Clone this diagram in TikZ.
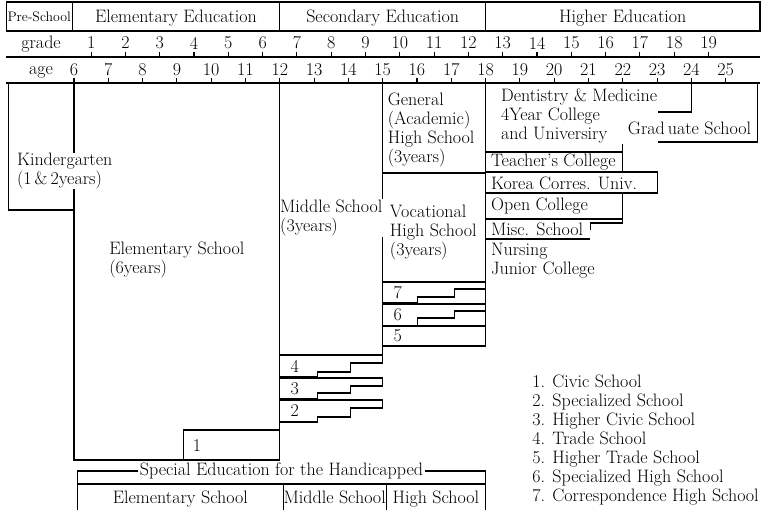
\documentclass[tikz,border=0pt]{standalone}

\begin{document}
\begin{tikzpicture}[x=34.3pt, y=-1pt, line width=1.1pt,
  font=\fontsize{18}{19}\selectfont]

  % Styles
  \tikzset{
    txt/.style={inner sep=0.5pt, fill=white, align=left, anchor=west},
    num/.style={inner sep=0pt},
    head/.style={inner sep=0pt, anchor=base}
  }

  % x: age in years, y: rows counted from the top
  \useasboundingbox (3.843,0) rectangle (26.117,510);

  % --- HEADER: school levels ---
  \draw (4.02,2) rectangle (26,31);
  \draw (5.95,2) -- (5.95,31);
  \draw (12,2) -- (12,31);
  \draw (18,2) -- (18,31);
  \node[head, font=\fontsize{13.8}{15}\selectfont] (pre) at (4.985,21.5) {Pre-School};
  \node[head] (elem) at (8.975,23) {Elementary Education};
  \node[head] (sec) at (15,23) {Secondary Education};
  \node[head] (high) at (22,23) {Higher Education};

  % --- GRADE ROW ---
  \node[head] (grade) at (5.04,48.5) {grade};
  \draw (4.02,57) -- (26,57);
  \foreach \g in {1,...,19} {
    \node[num] (g\g) at ({\g+5.5},43) {\g};
    \draw ({\g+5.5},52) -- ({\g+5.5},57);
  }

  % --- AGE ROW ---
  \node[head] (age) at (5.04,74.5) {age};
  \draw (4.02,83) -- (26,83);
  \foreach \y in {6,...,25} {
    \node[num] (a\y) at (\y,69.5) {\y};
    \draw (\y,78) -- (\y,83);
  }

  % --- PRE-SCHOOL AND ELEMENTARY ---
  \draw (4.08,83) -- (4.08,210) -- (6,210);
  \draw (6,83) rectangle (12,460);
  \draw (9.18,460) -- (9.18,430) -- (12,430);

  % --- MIDDLE AND HIGH SCHOOL ---
  \draw (12,355) -- (15,355);
  \draw (15,83) -- (15,355);
  \draw (15,173) -- (18,173);
  \draw (15,282) -- (18,282);
  \draw (15,326) -- (18,326);
  \draw (15,346) -- (18,346);
  \draw (18,83) -- (18,346);

  % stepped boxes (number/left/right/step1/step2/top/upper/lower/bottom)
  \foreach \nn/\xl/\xr/\sa/\sb/\ta/\ya/\yb/\tb in {
      4/12/15/13.1/14.05/355/363/372/377,
      3/12/15/13.1/14.05/378/386/393/399,
      2/12/15/13.1/14.05/400/408/417/422,
      7/15/18/16.02/17.1/282/289/297/303,
      6/15/18/16.02/17.1/304/311/318/326} {
    \draw (\xl,\ta) -- (\xr,\ta) -- (\xr,\ya) -- (\sb,\ya) -- (\sb,\yb)
      -- (\sa,\yb) -- (\sa,\tb) -- (\xl,\tb);
    \node[num, anchor=west] (s\nn) at ({\xl+0.3},{(\ta+\tb)/2}) {\nn};
  }
  \node[num, anchor=west] (s5) at (15.3,336) {5};
  \node[num, anchor=west] (s1) at (9.45,446) {1};

  % --- HIGHER EDUCATION ---
  \draw (24,83) -- (24,112) -- (22,112) -- (22,172);
  \draw (22,142) -- (25.92,142) -- (25.92,83);
  \draw (18,152) -- (22,152);
  \draw (18,172) rectangle (23,193);
  \draw (18,219) -- (22,219);
  \draw (22,193) -- (22,223) -- (21.05,223) -- (21.05,230);
  \draw (18,239) -- (21.05,239);

  % --- LABELS ---
  \node[txt] (kinder) at (4.31,171) {Kindergarten\\(1\,\&\,2years)};
  \node[txt] (elemsch) at (7.0,260) {Elementary School\\(6years)};
  \node[txt] (middle) at (11.98,218) {Middle School\\(3years)};
  \node[txt] (general) at (15.12,130) {General\\(Academic)\\High School\\(3years)};
  \node[txt] (vocat) at (15.18,233) {Vocational\\High School\\(3years)};
  \node[txt] (univ) at (18.42,116) {Dentistry \& Medicine\\4Year College\\and Universiry};
  \node[txt] (grad) at (22.12,128) {Grad\,uate School};
  \node[txt] (teach) at (18.13,162) {Teacher's College};
  \node[txt] (korea) at (18.13,183) {Korea Corres. Univ.};
  \node[txt] (open) at (18.13,206.5) {Open College};
  \node[txt] (misc) at (18.13,229) {Misc. School};
  \node[txt] (nurse) at (18.13,261) {Nursing\\Junior College};

  % --- LEGEND ---
  \foreach \i/\txt in {1/Civic School, 2/Specialized School,
      3/Higher Civic School, 4/Trade School, 5/Higher Trade School,
      6/Specialized High School, 7/Correspondence High School}
    \node[head, anchor=base west] (leg\i) at (19.35,{387.5+19*(\i-1)}) {\i. \txt};

  % --- SPECIAL EDUCATION ---
  \draw (6.1,515) -- (6.1,471) -- (18,471) -- (18,515);
  \draw (6.1,484) -- (18,484);
  \draw (12.1,484) -- (12.1,515);
  \draw (15.1,484) -- (15.1,515);
  \node[txt, anchor=center, inner sep=1.5pt] (special) at (12.05,471) {Special Education for the Handicapped};
  \node[head] (selem) at (9.1,503.5) {Elementary School};
  \node[head] (smid) at (13.6,503.5) {Middle School};
  \node[head] (shigh) at (16.55,503.5) {High School};

\end{tikzpicture}
\end{document}
